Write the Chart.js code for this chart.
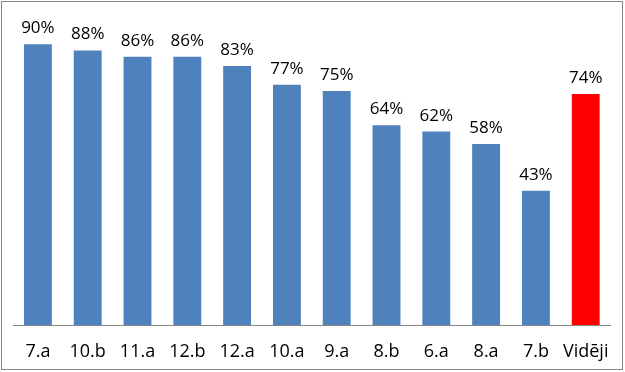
<!DOCTYPE html>
<html><head><meta charset="utf-8">
<script src="https://cdn.jsdelivr.net/npm/chart.js@4"></script>
<style>html,body{margin:0;padding:0;background:#fff}#w{width:625px;height:372px}</style>
</head><body><div id="w"><canvas id="c" width="625" height="372"></canvas></div>
<script>
const categories = ["7.a","10.b","11.a","12.b","12.a","10.a","9.a","8.b","6.a","8.a","7.b","Vidēji"];
const values = [90,88,86,86,83,77,75,64,62,58,43,74];
const barColors = ["#4F81BD","#4F81BD","#4F81BD","#4F81BD","#4F81BD","#4F81BD","#4F81BD","#4F81BD","#4F81BD","#4F81BD","#4F81BD","#FF0000"];
const FONT = '"Open Sans", "Liberation Sans", sans-serif';

const labelPlugin = {
  id:'labels',
  afterDatasetsDraw(chart){
    const ctx = chart.ctx;
    const meta = chart.getDatasetMeta(0);
    ctx.save();
    ctx.fillStyle = '#000';
    ctx.font = '17px ' + FONT;
    ctx.textAlign = 'center';
    ctx.textBaseline = 'alphabetic';
    meta.data.forEach((bar,i)=>{
      ctx.fillText(values[i] + '%', bar.x, bar.y - 11);
    });
    ctx.restore();
  },
  afterDraw(chart){
    const ctx = chart.ctx;
    ctx.save();
    ctx.strokeStyle = '#868686';
    ctx.lineWidth = 1;
    ctx.strokeRect(1.5,1.5,621,368);
    ctx.restore();
  }
};

new Chart(document.getElementById('c'), {
  type:'bar',
  data:{labels:categories,datasets:[{data:values,backgroundColor:barColors,borderWidth:0,categoryPercentage:1,barPercentage:0.56}]},
  options:{
    responsive:false,animation:false,
    layout:{padding:{left:13,right:13,top:13,bottom:7}},
    plugins:{legend:{display:false},tooltip:{enabled:false}},
    scales:{
      y:{display:false,min:0,max:100},
      x:{grid:{display:false,drawTicks:false},border:{display:true,color:'#868686',width:1},
         afterFit(scale){scale.height = 40;},
         ticks:{color:'#000',padding:16,maxRotation:0,minRotation:0,autoSkip:false,font:{size:18,family:FONT}}}
    }
  },
  plugins:[labelPlugin]
});
</script></body></html>
